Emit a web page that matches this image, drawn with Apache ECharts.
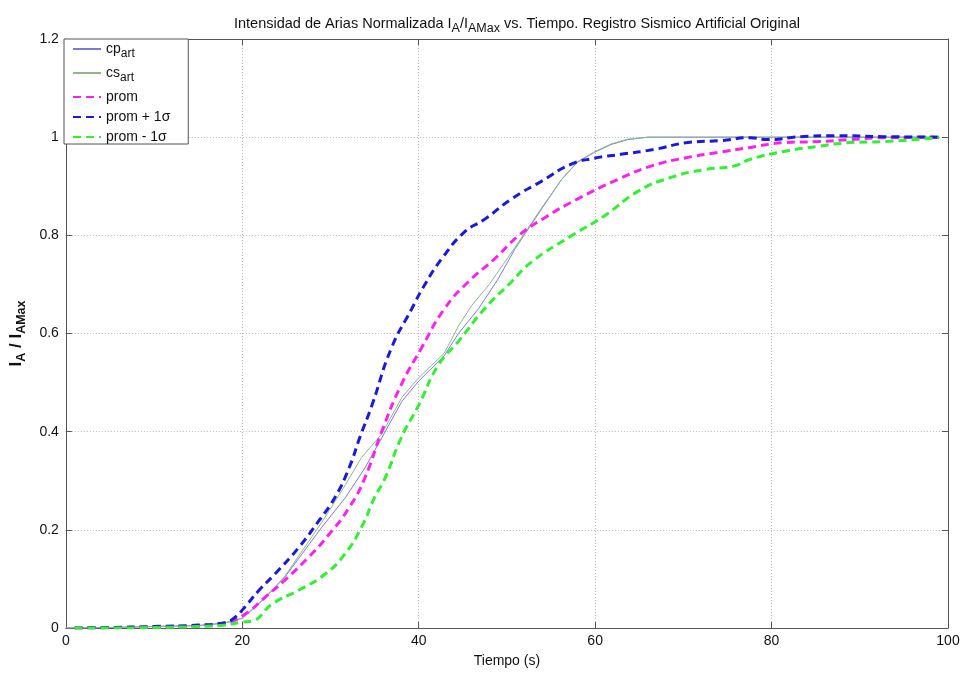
<!DOCTYPE html>
<html>
<head>
<meta charset="utf-8">
<script src="https://cdn.jsdelivr.net/npm/echarts@6/dist/echarts.min.js"></script>
<style>
  html, body { margin: 0; padding: 0; background: #fff; }
  #chart { width: 963px; height: 673px; }
</style>
</head>
<body>
<div id="chart"></div>
<script>
// Time samples (s) and normalised Arias intensity for each record
const tCp = [0, 5, 10, 15, 18, 20, 22.5, 24.8, 29, 31.7, 33.9, 35.8, 38.1, 40, 42.9, 44.5, 46.8, 49, 50.9, 53.9, 56.2, 58, 59.9, 61.8, 63.7, 66, 70, 80, 90, 99];
const vCp = [0, 0.001, 0.003, 0.005, 0.01, 0.02, 0.06, 0.103, 0.205, 0.266, 0.326, 0.387, 0.462, 0.503, 0.555, 0.600, 0.651, 0.711, 0.772, 0.853, 0.914, 0.949, 0.969, 0.985, 0.995, 1.0, 1.0, 1.0, 1.0, 1.0];

const tCs = [0, 5, 10, 15, 18, 20, 22.5, 24.8, 29, 31.7, 33.5, 35.8, 38.1, 40, 42.9, 44.5, 46, 48, 50.9, 53.9, 56.2, 58, 59.9, 61.8, 63.7, 66, 70, 80, 90, 99];
const vCs = [0, 0.001, 0.003, 0.005, 0.01, 0.02, 0.06, 0.105, 0.215, 0.292, 0.347, 0.395, 0.47, 0.51, 0.56, 0.615, 0.657, 0.70, 0.775, 0.855, 0.914, 0.95, 0.97, 0.986, 0.996, 1.0, 1.0, 1.0, 1.0, 1.0];

const tProm = [1, 5, 10, 15, 18, 20.3, 22.6, 24.8, 27.5, 29.8, 32.1, 33.9, 35.8, 38, 40.3, 42.9, 45.6, 48.6, 51.3, 54.2, 58, 62.6, 66.5, 70.3, 74, 77.6, 81.4, 85.2, 88.9, 92.7, 99];
const vProm = [0, 0.001, 0.002, 0.005, 0.01, 0.028, 0.063, 0.097, 0.144, 0.19, 0.245, 0.306, 0.40, 0.495, 0.57, 0.65, 0.705, 0.752, 0.799, 0.835, 0.874, 0.914, 0.942, 0.958, 0.969, 0.979, 0.989, 0.991, 0.995, 0.999, 1.0];

const tPlus = [1, 5, 10, 15, 18, 19.2, 20.3, 21.9, 23.7, 26.4, 28.7, 30.5, 32.1, 33.3, 34.7, 36.9, 39.2, 40.7, 42.6, 45.2, 47.5, 50.5, 53.9, 57.3, 59.9, 62.9, 66.7, 70.5, 74.2, 77.6, 79.5, 83.3, 87.1, 92.7, 99];
const vPlus = [0, 0.001, 0.003, 0.006, 0.011, 0.022, 0.043, 0.077, 0.11, 0.164, 0.219, 0.266, 0.326, 0.387, 0.454, 0.57, 0.65, 0.70, 0.752, 0.807, 0.833, 0.874, 0.91, 0.945, 0.957, 0.965, 0.975, 0.989, 0.993, 0.999, 0.995, 1.001, 1.003, 1.001, 1.0];

const tMinus = [1, 5, 10, 15, 18, 20, 21.1, 23.4, 26.4, 29.4, 31.6, 33.5, 35, 36.2, 38, 40, 42.2, 44.5, 47.5, 50.5, 52.8, 57.3, 61, 64.9, 68.6, 72.4, 75.7, 77.6, 81.4, 85.2, 88.9, 92.7, 99];
const vMinus = [0, 0, 0.001, 0.003, 0.006, 0.012, 0.014, 0.049, 0.077, 0.11, 0.15, 0.205, 0.266, 0.306, 0.387, 0.454, 0.535, 0.584, 0.651, 0.705, 0.746, 0.799, 0.839, 0.89, 0.918, 0.934, 0.941, 0.955, 0.971, 0.981, 0.989, 0.991, 0.999];

const seriesNames = ['cp_art', 'cs_art', 'prom', 'prom + 1σ', 'prom - 1σ'];

const pair = (t, v) => t.map((x, i) => [x, v[i]]);
const FONT = 'Liberation Sans, Arial, sans-serif';
const AXIS_COLOR = '#555';

const chart = echarts.init(document.getElementById('chart'), null, { renderer: 'canvas' });

const gridLine = () => ({ show: true, lineStyle: { type: [1, 2], color: '#b8b8b8', width: 1 } });
const axisLine = () => ({ show: true, onZero: false, lineStyle: { color: AXIS_COLOR, width: 1 } });
const tick = () => ({ show: true, inside: true, length: 6, lineStyle: { color: AXIS_COLOR, width: 1 } });

function thin(name, data, color) {
  return { name, type: 'line', data, showSymbol: false, symbol: 'none', smooth: false,
    lineStyle: { color, width: 1 }, itemStyle: { color }, z: 2 };
}
function dashed(name, data, color) {
  return { name, type: 'line', data, showSymbol: false, symbol: 'none', smooth: true,
    lineStyle: { color, width: 3, type: [8, 5] }, itemStyle: { color }, z: 3 };
}

chart.setOption({
  animation: false,
  backgroundColor: '#fff',
  textStyle: { fontFamily: FONT },
  title: {
    text: 'Intensidad de Arias Normalizada I{sub|A}/I{sub|AMax} vs. Tiempo. Registro Sismico Artificial Original',
    left: 229, top: 8,
    textStyle: {
      fontFamily: FONT, fontSize: 14.5, fontWeight: 'normal', color: '#111',
      rich: { sub: { fontFamily: FONT, fontSize: 12.5, verticalAlign: 'bottom', padding: [9, 0, 0, 0], color: '#111' } }
    }
  },
  grid: { left: 63, right: 15, top: 39, bottom: 42, containLabel: false },
  legend: {
    orient: 'vertical', left: 64, top: 39,
    backgroundColor: '#fff', borderColor: AXIS_COLOR, borderWidth: 1, borderRadius: 0,
    padding: [3, 18, 0, 8],
    itemWidth: 28, itemHeight: 14, itemGap: 6,
    data: seriesNames,
    itemStyle: { opacity: 0 },
    formatter: (n) => n.replace('_art', '{sub|art}'),
    textStyle: {
      fontFamily: FONT, fontSize: 14, color: '#111',
      rich: { sub: { fontFamily: FONT, fontSize: 12, padding: [10, 0, 0, 0], color: '#111' } }
    }
  },
  xAxis: [{
    type: 'value', min: 0, max: 100, interval: 20, position: 'bottom',
    name: 'Tiempo (s)', nameLocation: 'middle', nameGap: 26,
    nameTextStyle: { fontFamily: FONT, fontSize: 14, color: '#111' },
    axisLine: axisLine(), axisTick: tick(), splitLine: gridLine(),
    axisLabel: { fontFamily: FONT, fontSize: 14, color: '#111', margin: 6 },
  }, {
    type: 'value', min: 0, max: 100, interval: 20, position: 'top',
    axisLine: axisLine(), axisTick: tick(), axisLabel: { show: false }, splitLine: { show: false }
  }],
  yAxis: [{
    type: 'value', min: 0, max: 1.2, interval: 0.2, position: 'left',
    name: 'I{sub|A} / I{sub|AMax}', nameLocation: 'middle', nameGap: 36, nameRotate: 90,
    nameTextStyle: { fontFamily: FONT, fontSize: 17, fontWeight: 'bold', color: '#111',
      rich: { sub: { fontFamily: FONT, fontSize: 12.5, fontWeight: 'bold', padding: [11, 0, 0, 0], color: '#111' } } },
    axisLine: axisLine(), axisTick: tick(), splitLine: gridLine(),
    axisLabel: { fontFamily: FONT, fontSize: 14, color: '#111', margin: 7,
      formatter: (v) => String(+v.toFixed(1)) },
  }, {
    type: 'value', min: 0, max: 1.2, interval: 0.2, position: 'right',
    axisLine: axisLine(), axisTick: tick(), axisLabel: { show: false }, splitLine: { show: false }
  }],
  series: [
    thin(seriesNames[0], pair(tCp, vCp), '#7b7bd6'),
    thin(seriesNames[1], pair(tCs, vCs), '#8fb58f'),
    dashed(seriesNames[2], pair(tProm, vProm), '#ff22ee'),
    dashed(seriesNames[3], pair(tPlus, vPlus), '#1a1ad8'),
    dashed(seriesNames[4], pair(tMinus, vMinus), '#33ee33')
  ]
});
</script>
</body>
</html>
